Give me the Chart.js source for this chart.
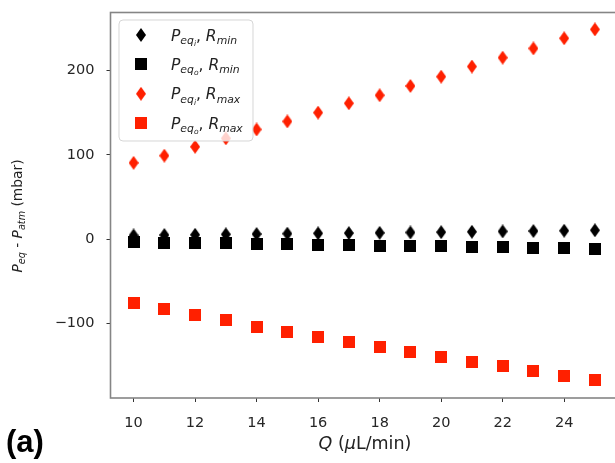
<!DOCTYPE html>
<html>
<head>
<meta charset="utf-8">
<script src="https://cdn.jsdelivr.net/npm/chart.js@4.4.1/dist/chart.umd.min.js"></script>
<style>
html,body{margin:0;padding:0;background:#fff;overflow:hidden;width:615px;height:463px;}
#wrap{position:absolute;left:0;top:0;width:626px;height:463px;}
</style>
</head>
<body>
<div id="wrap"><canvas id="c" width="626" height="463"></canvas></div>
<script>
// ---- data ----
const flowRates = [10, 11, 12, 13, 14, 15, 16, 17, 18, 19, 20, 21, 22, 23, 24, 25];
const peqInRmin  = [4.5, 5.0, 5.3, 5.8, 6.2, 6.6, 7.0, 7.3, 7.6, 8.0, 8.4, 8.8, 9.3, 9.7, 10.1, 10.6];
const peqOutRmin = [-3.2, -4.0, -4.5, -5.0, -5.7, -6.2, -6.6, -7.2, -7.6, -8.0, -8.5, -9.0, -9.3, -9.8, -10.3, -11.2];
const peqInRmax  = [90.5, 99, 109.5, 119.5, 130, 139.5, 150, 161, 170.5, 181.5, 192.5, 204.5, 215, 226, 238, 248.5];
const peqOutRmax = [-76, -83, -90, -96, -103.5, -109.5, -115.5, -121.5, -127.5, -133.5, -139.5, -145.5, -150.5, -156.5, -161.5, -167];
const seriesNames = ['$P_{eq_{i}}, R_{min}$', '$P_{eq_{o}}, R_{min}$', '$P_{eq_{i}}, R_{max}$', '$P_{eq_{o}}, R_{max}$'];
const xTickValues = [10, 12, 14, 16, 18, 20, 22, 24];
const yTickValues = [-100, 0, 100, 200];
const yTickLabels = ['\u2212100', '0', '100', '200'];
const xAxisTitle = '$Q$ ($\u03bc$L/min)';
const yAxisTitle = '$P_{eq}$ - $P_{atm}$ (mbar)';
const panelLabel = '(a)';

// ---- marker images ----
function diamond(color) {
  const c = document.createElement('canvas'); c.width = 10; c.height = 14;
  const g = c.getContext('2d'); g.fillStyle = color;
  g.beginPath(); g.moveTo(5, 0); g.lineTo(10, 7); g.lineTo(5, 14); g.lineTo(0, 7); g.closePath(); g.fill();
  return c;
}
function square(color) {
  const c = document.createElement('canvas'); c.width = 12; c.height = 12;
  const g = c.getContext('2d'); g.fillStyle = color; g.fillRect(0, 0, 12, 12);
  return c;
}
const RED = 'rgb(255,32,0)', BLACK = '#000';
const markers = [diamond(BLACK), square(BLACK), diamond(RED), square(RED)];
const seriesData = [peqInRmin, peqOutRmin, peqInRmax, peqOutRmax];

// ---- rich text (mini TeX-like) ----
function parseRich(str) {
  const out = []; let math = false; let level = 0; const stack = [];
  let i = 0;
  while (i < str.length) {
    const ch = str[i];
    if (ch === '$') { math = !math; i++; continue; }
    if (math && ch === '_') {
      if (str[i + 1] === '{') { stack.push(level); level++; i += 2; }
      else { out.push({t: str[i + 1], lvl: level + 1, it: true}); i += 2; }
      continue;
    }
    if (math && ch === '}') { level = stack.pop() || 0; i++; continue; }
    const it = math && /[A-Za-z\u03bc]/.test(ch);
    out.push({t: ch, lvl: level, it: it});
    i++;
  }
  return out;
}
const FONT = '"DejaVu Sans", sans-serif';
function segFont(s, size) {
  const sz = size * Math.pow(0.7, s.lvl);
  return (s.it ? 'italic ' : '') + sz.toFixed(2) + 'px ' + FONT;
}
function richWidth(ctx, segs, size) {
  let w = 0;
  for (const s of segs) { ctx.font = segFont(s, size); w += ctx.measureText(s.t).width; }
  return w;
}
function drawRich(ctx, str, x, y, size, align) {
  const segs = parseRich(str);
  const w = richWidth(ctx, segs, size);
  let cx = align === 'center' ? x - w / 2 : x;
  ctx.textBaseline = 'alphabetic'; ctx.textAlign = 'left';
  for (const s of segs) {
    ctx.font = segFont(s, size);
    const dy = s.lvl === 0 ? 0 : (s.lvl === 1 ? size * 0.22 : size * 0.22 + size * 0.7 * 0.2);
    ctx.fillText(s.t, cx, y + dy);
    cx += ctx.measureText(s.t).width;
  }
}

const decor = {
  id: 'decor',
  afterDraw(chart) {
    const ctx = chart.ctx, a = chart.chartArea;
    ctx.save();
    // frame
    ctx.strokeStyle = '#858585'; ctx.lineWidth = 1.6;
    ctx.strokeRect(a.left, a.top, a.right - a.left, a.bottom - a.top);
    // legend
    const lx = 119, ly = 20, lw = 134, lh = 121, r = 4;
    ctx.beginPath();
    ctx.moveTo(lx + r, ly); ctx.lineTo(lx + lw - r, ly); ctx.quadraticCurveTo(lx + lw, ly, lx + lw, ly + r);
    ctx.lineTo(lx + lw, ly + lh - r); ctx.quadraticCurveTo(lx + lw, ly + lh, lx + lw - r, ly + lh);
    ctx.lineTo(lx + r, ly + lh); ctx.quadraticCurveTo(lx, ly + lh, lx, ly + lh - r);
    ctx.lineTo(lx, ly + r); ctx.quadraticCurveTo(lx, ly, lx + r, ly); ctx.closePath();
    ctx.fillStyle = 'rgba(255,255,255,0.8)'; ctx.fill();
    ctx.strokeStyle = 'rgba(210,210,210,0.9)'; ctx.lineWidth = 1; ctx.stroke();
    for (let k = 0; k < seriesNames.length; k++) {
      const cy = 35 + k * 29.4;
      const m = markers[k];
      ctx.drawImage(m, 141 - m.width / 2, cy - m.height / 2);
      ctx.fillStyle = '#222';
      drawRich(ctx, seriesNames[k], 171, cy + 5.5, 15.5, 'left');
    }
    // axis titles
    ctx.fillStyle = '#222';
    drawRich(ctx, xAxisTitle, 365, 449, 17.5, 'center');
    ctx.save();
    ctx.translate(22, 216); ctx.rotate(-Math.PI / 2);
    drawRich(ctx, yAxisTitle, 0, 0, 13.8, 'center');
    ctx.restore();
    // panel label
    ctx.fillStyle = '#000';
    ctx.font = 'bold 31px "Liberation Sans", Arial, sans-serif';
    ctx.textAlign = 'left'; ctx.textBaseline = 'alphabetic';
    ctx.fillText(panelLabel, 6, 452);
    ctx.restore();
  }
};

new Chart(document.getElementById('c'), {
  type: 'scatter',
  data: {
    datasets: seriesData.map((vals, k) => ({
      label: seriesNames[k],
      data: flowRates.map((q, i) => ({x: q, y: vals[i]})),
      pointStyle: markers[k],
      pointRadius: 7,
      pointHoverRadius: 7,
      showLine: false,
      order: 4 - k
    }))
  },
  options: {
    responsive: false,
    animation: false,
    events: [],
    layout: {padding: {left: 0, top: 12.5, right: 6, bottom: 0}},
    plugins: {legend: {display: false}, tooltip: {enabled: false}},
    scales: {
      x: {
        type: 'linear', min: 9.25, max: 25.75,
        afterFit: s => { s.height = 65; s.paddingLeft = 0; s.paddingRight = 0; },
        afterBuildTicks: s => { s.ticks = xTickValues.map(v => ({value: v})); },
        grid: {drawOnChartArea: false, drawTicks: true, tickLength: 4, tickColor: '#333', tickWidth: 1},
        border: {display: false},
        ticks: {color: '#262626', font: {family: 'DejaVu Sans', size: 14.5}, padding: 13, maxRotation: 0,
                callback: v => String(v)}
      },
      y: {
        type: 'linear', min: -188, max: 268.5,
        afterFit: s => { s.width = 110.5; s.paddingTop = 0; s.paddingBottom = 0; },
        afterBuildTicks: s => { s.ticks = yTickValues.map(v => ({value: v})); },
        grid: {drawOnChartArea: false, drawTicks: true, tickLength: 4, tickColor: '#333', tickWidth: 1},
        border: {display: false},
        ticks: {color: '#262626', font: {family: 'DejaVu Sans', size: 14.5}, padding: 12,
                callback: v => yTickLabels[yTickValues.indexOf(v)]}
      }
    }
  },
  plugins: [decor]
});
</script>
</body>
</html>
